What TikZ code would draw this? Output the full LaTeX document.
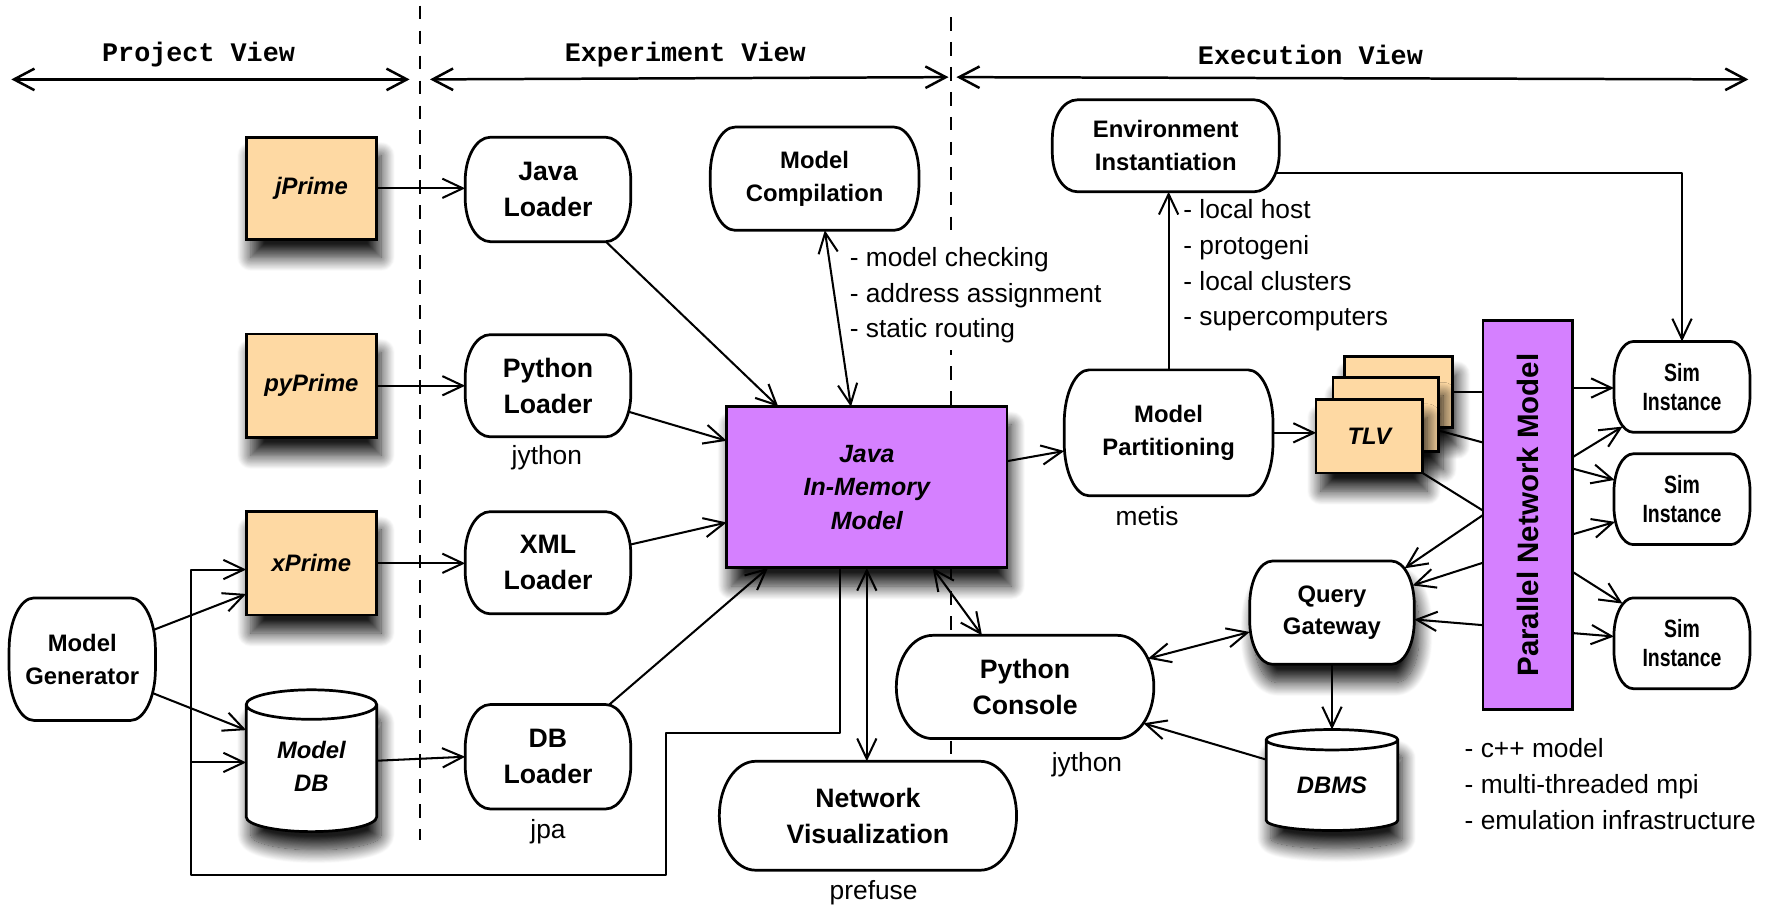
\documentclass[tikz,border=0pt]{standalone}
\usepackage{fontspec}
\setmainfont{Liberation Sans}
\setmonofont{Liberation Mono}
\newfontfamily\narrowfont{Liberation Sans}[FakeStretch=0.78]
\usetikzlibrary{arrows.meta,shadows.blur,calc}

\definecolor{orangefill}{RGB}{254,217,163}
\definecolor{purplefill}{RGB}{213,128,255}

% text styles
\newcommand\nodeBig{\fontsize{11.75}{15.8}\selectfont\bfseries}
\newcommand\nodeMid{\fontsize{10.5}{14.4}\selectfont\bfseries}
\newcommand\nodeSim{\narrowfont\fontsize{11}{12.8}\selectfont\bfseries}
\newcommand\nodeItal{\fontsize{10.5}{14.6}\selectfont\bfseries\itshape}
\newcommand\nodeModel{\fontsize{11}{14.7}\selectfont\bfseries\itshape}
\newcommand\noteText{\fontsize{11.6}{15.75}\selectfont}
\newcommand\viewHead{\ttfamily\bfseries\fontsize{11.8}{14}\selectfont}
\newcommand\pnmText{\fontsize{13}{15}\selectfont\bfseries}

% node shapes: a box with elliptical corners and a database cylinder
\makeatletter
\newdimen\tmXa \newdimen\tmXb \newdimen\tmYa \newdimen\tmYb
\newdimen\tmRx \newdimen\tmRy
\def\termrx{11pt}
\def\termryf{0.42}
\def\cylry{6pt}
\pgfdeclareshape{terminal}{%
  \inheritsavedanchors[from=rectangle]%
  \inheritanchorborder[from=rectangle]%
  \inheritanchor[from=rectangle]{center}%
  \inheritanchor[from=rectangle]{mid}%
  \inheritanchor[from=rectangle]{base}%
  \inheritanchor[from=rectangle]{north}%
  \inheritanchor[from=rectangle]{south}%
  \inheritanchor[from=rectangle]{east}%
  \inheritanchor[from=rectangle]{west}%
  \inheritanchor[from=rectangle]{north east}%
  \inheritanchor[from=rectangle]{north west}%
  \inheritanchor[from=rectangle]{south east}%
  \inheritanchor[from=rectangle]{south west}%
  \backgroundpath{%
    \southwest \tmXa=\pgf@x \tmYa=\pgf@y
    \northeast \tmXb=\pgf@x \tmYb=\pgf@y
    \pgfmathsetlength\tmRx{\termrx}%
    \tmRy=\tmYb \advance\tmRy by -\tmYa
    \pgfmathsetlength\tmRy{\termryf*\tmRy}%
    \pgfpathmoveto{\pgfpoint{\tmXa+\tmRx}{\tmYb}}%
    \pgfpathlineto{\pgfpoint{\tmXb-\tmRx}{\tmYb}}%
    \pgfpatharc{90}{0}{\tmRx and \tmRy}%
    \pgfpathlineto{\pgfpoint{\tmXb}{\tmYa+\tmRy}}%
    \pgfpatharc{0}{-90}{\tmRx and \tmRy}%
    \pgfpathlineto{\pgfpoint{\tmXa+\tmRx}{\tmYa}}%
    \pgfpatharc{270}{180}{\tmRx and \tmRy}%
    \pgfpathlineto{\pgfpoint{\tmXa}{\tmYb-\tmRy}}%
    \pgfpatharc{180}{90}{\tmRx and \tmRy}%
    \pgfpathclose
  }%
}
\pgfdeclareshape{dbcylinder}{%
  \inheritsavedanchors[from=rectangle]%
  \inheritanchorborder[from=rectangle]%
  \inheritanchor[from=rectangle]{center}%
  \inheritanchor[from=rectangle]{mid}%
  \inheritanchor[from=rectangle]{base}%
  \inheritanchor[from=rectangle]{north}%
  \inheritanchor[from=rectangle]{south}%
  \inheritanchor[from=rectangle]{east}%
  \inheritanchor[from=rectangle]{west}%
  \inheritanchor[from=rectangle]{north east}%
  \inheritanchor[from=rectangle]{north west}%
  \inheritanchor[from=rectangle]{south east}%
  \inheritanchor[from=rectangle]{south west}%
  \backgroundpath{%
    \southwest \tmXa=\pgf@x \tmYa=\pgf@y
    \northeast \tmXb=\pgf@x \tmYb=\pgf@y
    \pgfmathsetlength\tmRy{\cylry}%
    \tmRx=\tmXb \advance\tmRx by -\tmXa \tmRx=.5\tmRx
    \pgfpathmoveto{\pgfpoint{\tmXa}{\tmYb-\tmRy}}%
    \pgfpathlineto{\pgfpoint{\tmXa}{\tmYa+\tmRy}}%
    \pgfpatharc{180}{360}{\tmRx and \tmRy}%
    \pgfpathlineto{\pgfpoint{\tmXb}{\tmYb-\tmRy}}%
    \pgfpatharc{0}{180}{\tmRx and \tmRy}%
    \pgfpathclose
    \pgfpathmoveto{\pgfpoint{\tmXa}{\tmYb-\tmRy}}%
    \pgfpatharc{180}{360}{\tmRx and \tmRy}%
  }%
}
\makeatother

\tikzset{
  term rx/.code={\def\termrx{#1}},
  term ryf/.code={\def\termryf{#1}},
  cyl ry/.code={\def\cylry{#1}},
}

\begin{document}
\begin{tikzpicture}[x=0.5pt, y=-0.5pt,
  >={Straight Barb[length=9pt,width=8.5pt]},
  every node/.style={outer sep=0pt},
  outline/.style={draw=black, line width=1.2pt},
  term/.style={shape=terminal, outline, fill=white, inner sep=0pt, align=center},
  pbox/.style={rectangle, outline, fill=orangefill, inner sep=0pt, align=center, font=\nodeItal},
  mbox/.style={rectangle, outline, fill=purplefill, inner sep=0pt, align=center},
  cyl/.style={shape=dbcylinder, outline, fill=white, inner sep=0pt, align=center, font=\nodeItal},
  shad/.style={blur shadow={shadow xshift=2pt, shadow yshift=-8pt, shadow blur radius=6pt, shadow opacity=90, shadow blur steps=18}},
  big/.style={font=\nodeBig},
  mid/.style={font=\nodeMid},
  sim/.style={term, font=\nodeSim, term rx=8.5pt, minimum width=60pt, minimum height=40pt},
  note/.style={font=\noteText, inner sep=0pt},
  notes/.style={font=\noteText, align=left, inner sep=3pt, anchor=north west},
  conn/.style={line width=0.9pt, line join=round},
  arr/.style={conn, ->},
  dblarr/.style={conn, <->},
  span/.style={line width=1.1pt, {Straight Barb[length=9pt,width=9.5pt]}-{Straight Barb[length=9pt,width=9.5pt]}},
  divider/.style={line width=0.8pt, dash pattern=on 6pt off 5pt},
  viewtitle/.style={font=\viewHead, inner sep=0pt},
]
\useasboundingbox (0,0) rectangle (1568,801);

% view dividers
\draw[divider] (370,5) -- (370,740);
\draw[divider] (838,15) -- (838,665);

% view headings and their extents
\node[viewtitle] (tproj) at (175,48) {Project View};
\node[viewtitle] (texp) at (604,48) {Experiment View};
\node[viewtitle] (texe) at (1155,48) {Execution View};
\coordinate (pvL) at (10,70);
\coordinate (pvR) at (361,70);
\coordinate (evL) at (379,70);
\coordinate (evR) at (836,68);
\coordinate (xvL) at (843,68);
\coordinate (xvR) at (1541,70);
\draw[span] (pvL) -- (pvR);
\draw[span] (evL) -- (evR);
\draw[span] (xvL) -- (xvR);

% project view
\node[pbox, shad, minimum width=57.5pt, minimum height=45pt] (jp) at (274.5,166) {jPrime};
\node[pbox, shad, minimum width=57.5pt, minimum height=45.5pt] (pp) at (274.5,340) {pyPrime};
\node[pbox, shad, minimum width=57.5pt, minimum height=45.5pt] (xp) at (274.5,496.5) {xPrime};
\node[cyl, shad, cyl ry=6.5pt, minimum width=57.5pt, minimum height=62.5pt] (mdb) at (274.5,670.5) {\rule{0pt}{12.7pt}Model\\DB};
\node[term, mid, minimum width=64.5pt, minimum height=54pt] (mg) at (72.5,581) {Model\\Generator};

% experiment view
\node[term, big, minimum width=73pt, minimum height=46pt] (jl) at (483,167) {Java\\Loader};
\node[term, big, minimum width=73pt, minimum height=45pt] (pl) at (483,340) {Python\\Loader};
\node[term, big, minimum width=73pt, minimum height=45pt] (xl) at (483,496) {XML\\Loader};
\node[term, big, minimum width=73pt, minimum height=46pt] (dl) at (483,667) {DB\\Loader};
\node[term, mid, term ryf=0.46, minimum width=92pt, minimum height=45.5pt] (mc) at (718,157.5) {Model\\Compilation};
\node[mbox, shad, font=\nodeModel, minimum width=123.5pt, minimum height=71pt] (jmm) at (764,429.5) {Java\\In-Memory\\Model};
\node[term, big, term rx=16pt, term ryf=0.5, minimum width=131pt, minimum height=48pt] (nv) at (765,719) {Network\\Visualization};

\node[note, anchor=base] (jyl) at (482,409) {jython};
\node[note, anchor=base] (jpa) at (483,739) {jpa};
\node[note, anchor=base] (pref) at (770,793) {prefuse};
\node[notes, fill=white] (mcnotes) at (743,212) {- model checking\\- address assignment\\- static routing};

% execution view
\node[term, mid, minimum width=100pt, minimum height=40.5pt] (ei) at (1027.5,128.5) {Environment\\Instantiation};
\node[term, mid, minimum width=92pt, minimum height=55.5pt] (mp) at (1030,381.5) {Model\\Partitioning};
\node[pbox, shad, minimum width=47.5pt, minimum height=31.5pt] (tlv3) at (1232.5,345.5) {};
\node[pbox, shad, minimum width=46.5pt, minimum height=32.5pt] (tlv2) at (1221.5,365.5) {};
\node[pbox, shad, minimum width=47pt, minimum height=32.5pt] (tlv) at (1207,384.5) {TLV};
\node[mbox, minimum width=39.5pt, minimum height=171.5pt] (pnm) at (1346.5,454) {};
\node[font=\pnmText, rotate=90, inner sep=0pt] (pnmlabel) at (pnm.center) {Parallel Network Model};
\node[sim] (s1) at (1482.5,341) {Sim\\Instance};
\node[sim] (s2) at (1482.5,440) {Sim\\Instance};
\node[sim] (s3) at (1482.5,567) {Sim\\Instance};
\node[term, mid, shad, term rx=10pt, minimum width=72.5pt, minimum height=45.5pt] (qg) at (1174,540) {Query\\Gateway};
\node[term, big, term rx=16pt, term ryf=0.5, minimum width=113.5pt, minimum height=45.5pt] (pc) at (903.5,605.5) {Python\\Console};
\node[cyl, shad, cyl ry=4.5pt, minimum width=58pt, minimum height=44.5pt] (dbms) at (1174,687.5) {\rule{0pt}{11.7pt}DBMS};

\node[note, anchor=base] (met) at (1011,463) {metis};
\node[note, anchor=base] (jyc) at (958,680) {jython};
\node[notes] (einotes) at (1037,170) {- local host\\- protogeni\\- local clusters\\- supercomputers};
\node[notes] (pnmnotes) at (1285,645) {- c++ model\\- multi-threaded mpi\\- emulation infrastructure};

% project sources into the loaders
\draw[arr] (jp.east) -- (jp.east -| jl.west);
\draw[arr] (pp.east) -- (pp.east -| pl.west);
\draw[arr] (xp.east) -- (xp.east -| xl.west);
\draw[arr] (mdb.east) -- (dl.west);
\draw[arr] ([xshift=-0.6pt,yshift=13pt]mg.east) -- ([yshift=-13.5pt]xp.west);
\draw[arr] ([xshift=-1.1pt,yshift=-15pt]mg.east) -- ([yshift=13.5pt]mdb.west);

% export of the in-memory model back to the project view
\coordinate (ex1) at (740,646);
\coordinate (ex2) at (587,646);
\coordinate (ex3) at (587,771);
\coordinate (ex4) at (168,771);
\coordinate (ex5) at (168,502);
\coordinate (ex6) at (168,672);
\draw[arr] (jmm.south -| ex1) -- (ex1) -- (ex2) -- (ex3) -- (ex4) -- (ex5) -- (ex5 -| xp.west);
\draw[arr] (ex6) -- (ex6 -| mdb.west);

% loaders into the in-memory model
\draw[arr] ([xshift=25.5pt]jl.south) -- ([xshift=-39pt]jmm.north);
\draw[arr] ([xshift=-0.8pt,yshift=-11.5pt]pl.east) -- ([yshift=20.5pt]jmm.west);
\draw[arr] ([xshift=-0.3pt,yshift=8pt]xl.east) -- ([yshift=-15.5pt]jmm.west);
\draw[arr] ([xshift=27pt]dl.north) -- ([xshift=-43.5pt]jmm.south);

% in-memory model services
\draw[dblarr] ([xshift=4.5pt]mc.south) -- ([xshift=-7pt]jmm.north);
\draw[dblarr] (jmm.south) -- (jmm.south |- nv.north);
\draw[dblarr] ([xshift=29pt]jmm.south) -- ([xshift=-19pt]pc.north);
\draw[arr] ([yshift=11.5pt]jmm.east) -- ([yshift=-8pt]mp.west);

% execution
\draw[arr] (mp.north) -- (mp.north |- ei.south);
\draw[arr] ([xshift=-1.4pt,yshift=-12pt]ei.east) -| (s1.north);
\draw[arr] (mp.east) -- (mp.east -| tlv.west);
\draw[conn] (tlv3.east) -- (tlv3.east -| pnm.west);
\draw[conn] ([yshift=-7pt]tlv2.east) -- ([yshift=32pt]pnm.west);
\draw[conn] (tlv.south east) -- ([yshift=2pt]pnm.west);

\draw[arr] (pnm.west) -- ([xshift=-4.25pt,yshift=-3.2pt]qg.north east);
\draw[arr] ([yshift=-21pt]pnm.west) -- ([xshift=-0.75pt,yshift=12pt]qg.east);
\draw[arr] ([yshift=-48.5pt]pnm.west) -- ([yshift=-3pt]qg.east);

\draw[arr] ([yshift=56pt]pnm.east) -- ([yshift=56pt]pnm.east -| s1.west);
\draw[arr] ([yshift=25.5pt]pnm.east) -- ([xshift=3.8pt,yshift=-17.5pt]s1.west);
\draw[arr] ([yshift=20.5pt]pnm.east) -- ([xshift=0.3pt,yshift=8.5pt]s2.west);
\draw[arr] ([yshift=-8.5pt]pnm.east) -- ([xshift=0.5pt,yshift=-10pt]s2.west);
\draw[arr] ([yshift=-25pt]pnm.east) -- ([xshift=3.8pt,yshift=17.5pt]s3.west);
\draw[arr] ([yshift=-52pt]pnm.east) -- ([yshift=3pt]s3.west);

\draw[dblarr] ([yshift=-8.5pt]qg.west) -- ([xshift=-2.6pt,yshift=12.5pt]pc.east);
\draw[arr] (qg.south) -- (qg.south |- dbms.north);
\draw[arr] ([yshift=9pt]dbms.west) -- ([xshift=-4.6pt,yshift=-16pt]pc.east);
\end{tikzpicture}
\end{document}
